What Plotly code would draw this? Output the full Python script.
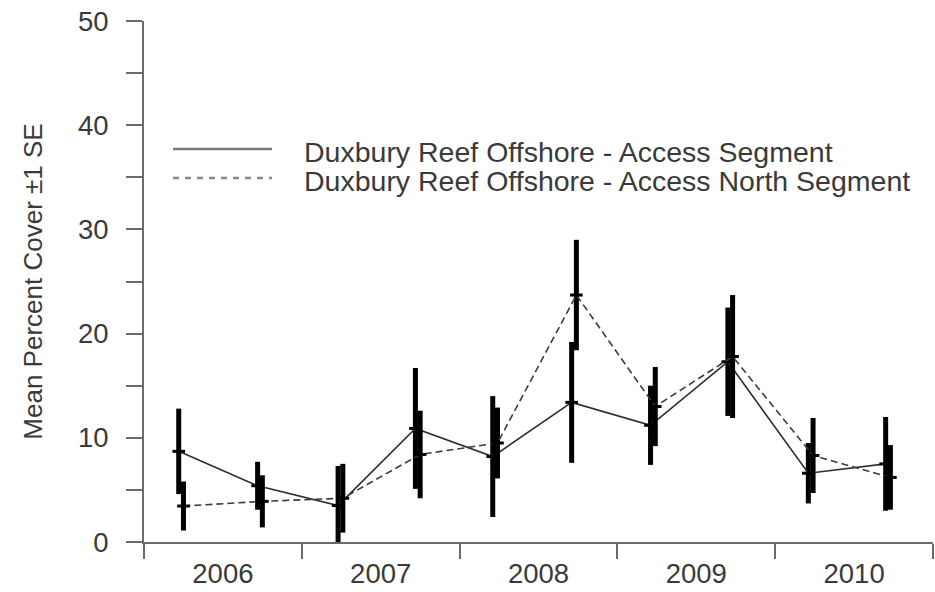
import plotly.graph_objects as go

# Survey times (decimal years) and mean percent cover with standard errors
years = [2006, 2007, 2008, 2009, 2010]
year_labels = ["2006", "2007", "2008", "2009", "2010"]

access_time = [2006.22, 2006.72, 2007.23, 2007.72, 2008.21,
               2008.71, 2009.21, 2009.70, 2010.21, 2010.70]
access_mean = [8.7, 5.4, 3.5, 10.9, 8.2, 13.4, 11.2, 17.3, 6.6, 7.5]
access_se = [4.1, 2.3, 3.8, 5.8, 5.8, 5.8, 3.8, 5.2, 2.9, 4.5]

north_time = [2006.25, 2006.75, 2007.26, 2007.75, 2008.24,
              2008.74, 2009.24, 2009.73, 2010.24, 2010.73]
north_mean = [3.45, 3.9, 4.2, 8.4, 9.5, 23.7, 13.0, 17.8, 8.3, 6.2]
north_se = [2.35, 2.5, 3.3, 4.2, 3.4, 5.3, 3.8, 5.9, 3.6, 3.1]

series_names = ["Duxbury Reef Offshore - Access Segment",
                "Duxbury Reef Offshore - Access North Segment"]

FONT = "Liberation Sans, Arial, sans-serif"
TEXT = "#3a3a3a"
AXIS = "#6a6a6a"

fig = go.Figure()

def add_series(t, m, se, name, dash, color):
    fig.add_trace(go.Scatter(
        x=t, y=m, name=name, mode="lines+markers",
        line=dict(color=color, width=1.6, dash=dash),
        marker=dict(symbol="line-ew", size=9, color="black",
                    line=dict(color="black", width=3)),
        error_y=dict(type="data", array=se, visible=True,
                     thickness=5, width=0, color="black"),
        showlegend=False,
    ))

add_series(access_time, access_mean, access_se, series_names[0], "solid", "#2e2e2e")
add_series(north_time, north_mean, north_se, series_names[1], "7px,4px", "#3c3c3c")

# Legend drawn as key lines plus labels inside the plotting area
W, H = 789, 521
def px_x(p):
    return (p - 144) / W
def px_y(p):
    return (542 - p) / H

legend_rows = [(149, 152, "solid", "#7a7a7a"), (178, 181, "6px,6px", "#8a8a8a")]
for (ly, ty, dash, col), name in zip(legend_rows, series_names):
    fig.add_shape(type="line", xref="paper", yref="paper",
                  x0=px_x(173), x1=px_x(272), y0=px_y(ly), y1=px_y(ly),
                  line=dict(color=col, width=2.5, dash=dash))
    fig.add_annotation(xref="paper", yref="paper", x=px_x(302), y=px_y(ty),
                       text=name, showarrow=False, xanchor="left", yanchor="middle",
                       font=dict(family=FONT, size=28.5, color=TEXT))

fig.update_layout(
    width=935, height=592,
    margin=dict(l=144, r=2, t=21, b=50),
    paper_bgcolor="white", plot_bgcolor="white",
    font=dict(family=FONT, color=TEXT),
    xaxis=dict(
        range=[2006, 2011], showgrid=False, zeroline=False,
        showline=True, linecolor=AXIS, linewidth=2,
        tickmode="array", tickvals=[y + 0.5 for y in years], ticktext=year_labels,
        ticks="outside", ticklen=6, tickcolor="rgba(0,0,0,0)",
        tickfont=dict(family=FONT, size=27.5, color=TEXT),
        minor=dict(tickmode="array", tickvals=years + [2011], ticks="outside",
                   ticklen=15, tickcolor=AXIS, tickwidth=2),
        automargin=False,
    ),
    yaxis=dict(
        range=[0, 50], showgrid=False, zeroline=False,
        showline=True, linecolor=AXIS, linewidth=2,
        tickmode="array", tickvals=[0, 10, 20, 30, 40, 50],
        ticks="outside", ticklen=16, tickcolor=AXIS, tickwidth=2,
        tickfont=dict(family=FONT, size=27.5, color=TEXT),
        ticklabelstandoff=12,
        minor=dict(dtick=5, ticks="outside", ticklen=16, tickcolor=AXIS, tickwidth=2),
        title=dict(text="Mean Percent Cover \u00b11 SE", standoff=28,
                   font=dict(family=FONT, size=26, color=TEXT)),
        automargin=False,
    ),
)

fig.write_html("out.html")
